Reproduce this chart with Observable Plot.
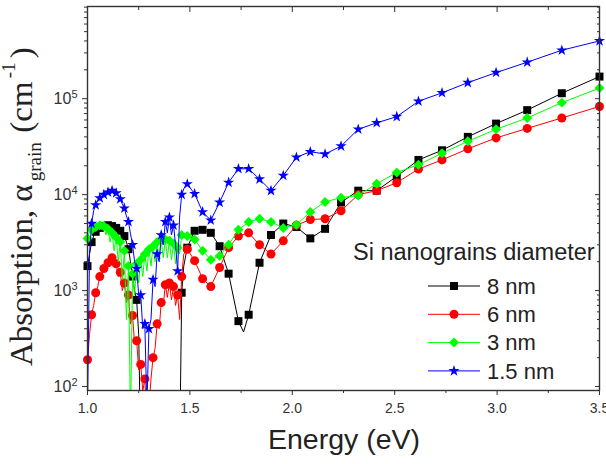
<!DOCTYPE html>
<html>
<head>
<meta charset="utf-8">
<script src="https://cdn.jsdelivr.net/npm/d3@7"></script>
<script src="https://cdn.jsdelivr.net/npm/@observablehq/plot@0.6"></script>
<style>
  html, body { margin: 0; padding: 0; background: #fff; }
  #chart svg { display: block; }
</style>
</head>
<body>
<div id="chart"></div>
<script>
// Photon energy grid of the dense (near-IR) part of the spectra, eV
const denseEnergy = [
  1.00, 1.01, 1.02, 1.03, 1.04, 1.05, 1.06, 1.07, 1.08, 1.09,
  1.10, 1.11, 1.12, 1.13, 1.14, 1.15, 1.16, 1.17, 1.18, 1.19,
  1.20, 1.21, 1.22, 1.23, 1.24, 1.25, 1.26, 1.27, 1.28, 1.29,
  1.30, 1.31, 1.32, 1.33, 1.34, 1.35, 1.36, 1.37, 1.38, 1.39,
  1.40, 1.41, 1.42, 1.43, 1.44, 1.45, 1.46, 1.47
];
// Photon energies of the visible / UV part, eV
const sparseEnergy = [
  1.487, 1.523, 1.562, 1.602, 1.645, 1.689, 1.737, 1.787, 1.840, 1.896,
  1.956, 2.020, 2.088, 2.160, 2.238, 2.322, 2.412, 2.510, 2.616, 2.731,
  2.857, 2.995, 3.147, 3.316, 3.500
];

// Absorption coefficient of the grains, cm^-1 (8 nm)
const dense8 = [
  1800, 2400, 3200, 3700, 4100, 4300, 4500, 4600, 4700, 4800,
  4800, 4700, 4700, 4600, 4500, 4300, 4200, 3900, 3700, 3200,
  2700, 2000, 1400, 1000, 800, 350, 20, 20, 20, 20,
  20, 20, 20, 20, 20, 20, 20, 20, 20, 20,
  20, 20, 20, 20, 20, 20, 950, 1800
];
const sparse8 = [
  2800, 4200, 4300, 4000, 2900, 1500, 480, 560, 1950, 3800,
  5000, 4600, 3500, 4400, 8300, 11000, 11000, 15500, 23000, 29000,
  40000, 55000, 76000, 114000, 170000
];
// sharp minimum of the 8 nm curve between two sampled markers
const dip8Energy = [1.762];
const dip8Value = [370];

// 6 nm
const dense6 = [
  190, 350, 560, 700, 950, 1100, 1400, 1450, 1700, 1650,
  1950, 1900, 2200, 1900, 1900, 1400, 1550, 1000, 1200, 750,
  900, 450, 550, 280, 300, 150, 170, 90, 120, 40,
  60, 120, 200, 250, 450, 400, 750, 700, 1150, 850,
  1200, 800, 1100, 700, 900, 500, 1400, 2400
];
const sparse6 = [
  2700, 2050, 1330, 1100, 1740, 2800, 3700, 4000, 3000, 2400,
  3300, 4800, 5500, 5600, 6800, 10000, 11000, 13300, 18500, 23000,
  30000, 39000, 49000, 63000, 83000
];

// 3 nm
const dense3 = [
  3500, 4200, 4300, 4500, 4600, 4700, 4800, 4300, 4700, 3800,
  4400, 3200, 4000, 2600, 3600, 2000, 3200, 1300, 2600, 500,
  1800, 40, 1500, 900, 1900, 1200, 2100, 1400, 2400, 1600,
  2700, 1800, 2900, 2000, 3200, 2100, 3300, 2200, 3400, 2200,
  3300, 2100, 3100, 1900, 2800, 2400, 3800, 3900
];
const sparse3 = [
  3700, 3400, 2600, 2100, 2300, 3000, 4300, 5200, 5600, 5200,
  4500, 4850, 6600, 8400, 9300, 9800, 13000, 17000, 20500, 27000,
  36000, 48000, 63000, 91000, 129000
];

// 1.5 nm
const dense15 = [
  60, 2500, 5000, 6800, 7800, 8700, 9200, 9700, 10000, 10300,
  10600, 10900, 11000, 10800, 10400, 9800, 9000, 8000, 7200, 6000,
  5200, 3900, 3000, 2000, 1700, 900, 900, 400, 450, 60,
  400, 500, 1300, 1100, 2400, 2000, 3800, 3000, 5200, 4000,
  5800, 3800, 4800, 3000, 1600, 6000, 10000, 11500
];
const sparse15 = [
  12900, 10200, 6600, 5400, 8300, 13400, 18600, 18600, 14500, 11000,
  15800, 24500, 28000, 26500, 32000, 48000, 56000, 65000, 94000, 115000,
  147000, 187000, 240000, 320000, 400000
];

const seriesNames = ["8 nm", "6 nm", "3 nm", "1.5 nm"];
const seriesColors = ["#000000", "#ff0000", "#00ff00", "#0000ff"];
const seriesSymbols = ["square", "circle", "diamond2", "star"];
const seriesRadius = [4.5, 4.5, 4.5, 3.5];
const legendTitle = "Si nanograins diameter";

const xTicks = [1.0, 1.5, 2.0, 2.5, 3.0, 3.5];
const xMinorTicks = [1.25, 1.75, 2.25, 2.75, 3.25];
const yTicks = [1e2, 1e3, 1e4, 1e5];
const xDomain = [1.0, 3.5];
const yDomain = [90.9, 9.14e5];

const yMinorTicks = yTicks
  .flatMap(t => d3.range(2, 10).map(k => k * t))
  .filter(v => v > yDomain[0] && v < yDomain[1]);

const denseSets = [dense8, dense6, dense3, dense15];
const sparseSets = [sparse8, sparse6, sparse3, sparse15];
const extraSets = [
  dip8Energy.map((e, i) => ({energy: e, value: dip8Value[i]})),
  [], [], []
];

const lineRows = [];
const markerRows = [];
seriesNames.forEach((name, s) => {
  const rows = [];
  denseEnergy.forEach((e, i) => {
    const r = {series: name, energy: e, value: denseSets[s][i]};
    rows.push(r);
    if (i % 2 === 0) markerRows.push(r);
  });
  sparseEnergy.forEach((e, i) => {
    const r = {series: name, energy: e, value: sparseSets[s][i]};
    rows.push(r);
    markerRows.push(r);
  });
  extraSets[s].forEach(d => rows.push({series: name, ...d}));
  rows.sort((a, b) => a.energy - b.energy);
  lineRows.push(...rows);
});

const marks = [];
seriesNames.forEach((name, s) => {
  marks.push(Plot.line(lineRows.filter(d => d.series === name), {
    x: "energy", y: "value", stroke: seriesColors[s], strokeWidth: 1, clip: true
  }));
  marks.push(Plot.dot(markerRows.filter(d => d.series === name && d.value >= yDomain[0]), {
    x: "energy", y: "value", symbol: () => seriesSymbols[s], fill: seriesColors[s],
    stroke: "none", r: seriesRadius[s]
  }));
});

const blank = () => "";
marks.push(
  Plot.axisX({ticks: xTicks, tickSize: 5, tickPadding: 8, tickFormat: d3.format(".1f"), label: null, fontSize: 14}),
  Plot.axisX({ticks: xMinorTicks, tickSize: 3, tickFormat: blank, label: null}),
  Plot.axisX({anchor: "top", ticks: xTicks, tickSize: 5, dy: 5, tickFormat: blank, label: null}),
  Plot.axisX({anchor: "top", ticks: xMinorTicks, tickSize: 3, dy: 3, tickFormat: blank, label: null}),
  Plot.axisY({ticks: yTicks, tickSize: 5, tickPadding: 5, tickFormat: d => "10^" + Math.round(Math.log10(d)), label: null, fontSize: 16}),
  Plot.axisY({ticks: yMinorTicks, tickSize: 3, tickFormat: blank, label: null}),
  Plot.axisY({anchor: "right", ticks: yTicks, tickSize: 5, dx: -5, tickFormat: blank, label: null}),
  Plot.axisY({anchor: "right", ticks: yMinorTicks, tickSize: 3, dx: -3, tickFormat: blank, label: null}),
  Plot.frame({stroke: "#333", strokeWidth: 1.4})
);

const svg = Plot.plot({
  width: 606,
  height: 464,
  marginLeft: 87,
  marginRight: 7,
  marginTop: 6,
  marginBottom: 74,
  style: {fontFamily: "Arial, 'Liberation Sans', sans-serif", color: "#333", background: "#fff"},
  x: {domain: xDomain},
  y: {type: "log", domain: yDomain},
  marks
});

const root = d3.select(svg);

// powers of ten on the y axis: base plus raised exponent
root.selectAll("text").each(function () {
  const t = d3.select(this);
  const m = /^10\^(\d+)$/.exec(t.text());
  if (!m) return;
  t.text(null);
  t.append("tspan").text("10");
  t.append("tspan").attr("dy", "-0.5em").attr("font-size", "11px").text(m[1]);
});

// x axis title
root.append("text")
  .attr("x", 344).attr("y", 449)
  .attr("text-anchor", "middle")
  .attr("font-family", "Arial, 'Liberation Sans', sans-serif")
  .attr("font-size", 28.5)
  .attr("fill", "#222")
  .text("Energy (eV)");

// y axis title with subscript and superscript
const yt = root.append("text")
  .attr("transform", "translate(32,366) rotate(-90) scale(1.06,1)")
  .attr("text-anchor", "start")
  .attr("font-family", "'Times New Roman', 'Liberation Serif', serif")
  .attr("font-size", 31)
  .attr("fill", "#222");
yt.append("tspan").text("Absorption, α");
yt.append("tspan").attr("font-size", 18).attr("dy", 9).attr("dx", 3).text("grain");
yt.append("tspan").attr("dy", -9).attr("dx", 9).text("(cm");
yt.append("tspan").attr("font-size", 18).attr("dy", -17).attr("dx", 3).text("-1");
yt.append("tspan").attr("dy", 17).attr("dx", 4).text(")");

// legend
const lg = root.append("g")
  .attr("text-anchor", "start")
  .attr("font-family", "Arial, 'Liberation Sans', sans-serif")
  .attr("font-size", 22)
  .attr("fill", "#222");
lg.append("text").attr("x", 353).attr("y", 252).attr("dy", "0.35em")
  .attr("font-size", 23.5).text(legendTitle);
const symbolTypes = {square: d3.symbolSquare, circle: d3.symbolCircle, diamond2: d3.symbolDiamond2, star: d3.symbolStar};
seriesNames.forEach((name, s) => {
  const y = 286 + s * 28.3;
  lg.append("line").attr("x1", 428).attr("x2", 480).attr("y1", y).attr("y2", y)
    .attr("stroke", seriesColors[s]).attr("stroke-width", 1);
  lg.append("path")
    .attr("transform", `translate(454,${y})`)
    .attr("d", d3.symbol(symbolTypes[seriesSymbols[s]], Math.PI * seriesRadius[s] ** 2)())
    .attr("fill", seriesColors[s]);
  lg.append("text").attr("x", 487).attr("y", y).attr("dy", "0.35em").text(name);
});

document.getElementById("chart").appendChild(svg);
</script>
</body>
</html>
